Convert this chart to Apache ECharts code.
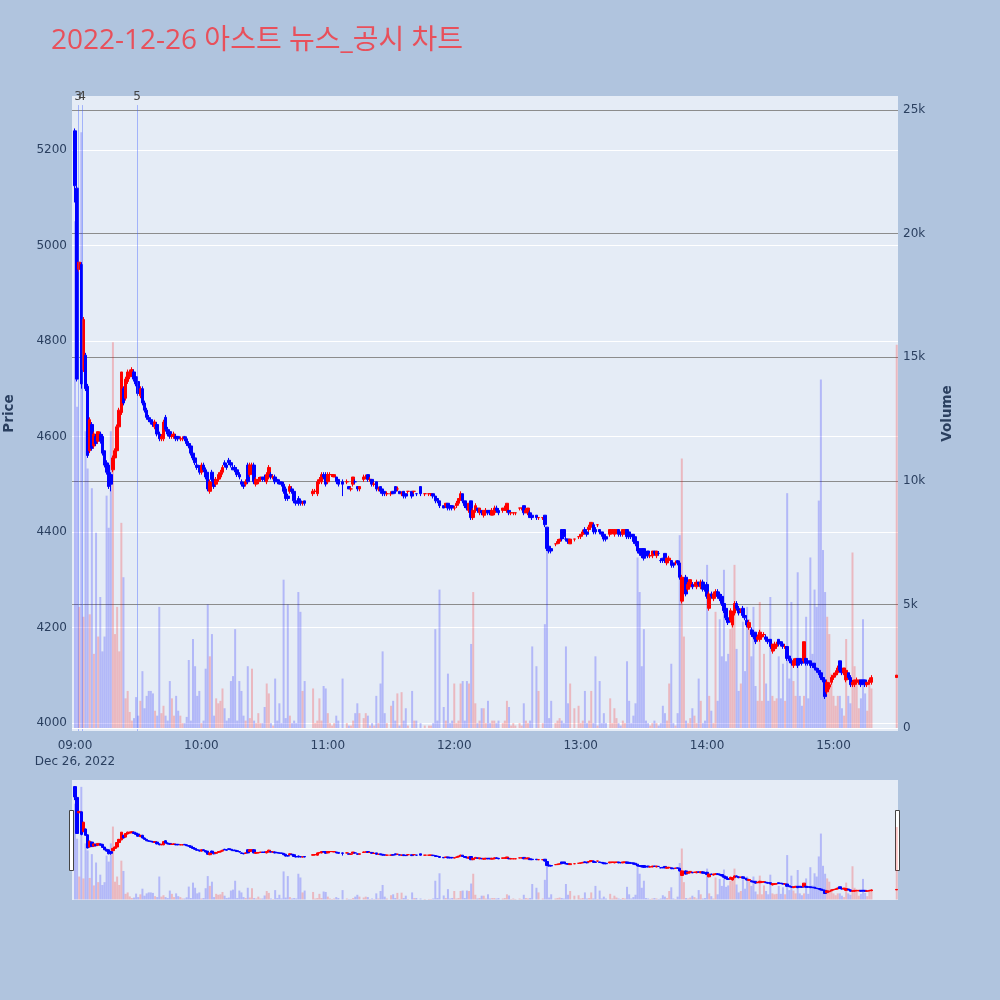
<!DOCTYPE html>
<html><head><meta charset="utf-8">
<script src="https://cdn.jsdelivr.net/npm/echarts@6/dist/echarts.min.js"></script>
<style>html,body{margin:0;padding:0;background:#b0c4de;}#c{width:1000px;height:1000px;}</style>
</head><body><div id="c"></div>
<script>
const chartTitle = '2022-12-26 아스트 뉴스_공시 차트';
const hourTicks = ['09:00','10:00','11:00','12:00','13:00','14:00','15:00'];
const newsTimes = ['09:01:25','09:03:20','09:29:25'];
const newsLabels = ['3','4','5'];

// candles per minute [open, close, low, high]; null = no trade
const h09 = [
[5240,5125,5090,5245],[5120,4720,4715,5125],[4950,4965,4945,4965],[4960,4710,4700,4965],[4740,4845,4735,4850],
[4770,4700,4695,4775],[4705,4560,4555,4710],[4570,4635,4565,4640],[4625,4575,4570,4630],[4580,4605,4575,4610],
[4600,4585,4580,4605],[4590,4610,4585,4610],[4605,4590,4585,4610],[4600,4565,4560,4605],[4570,4540,4535,4570],
[4545,4525,4520,4550],[4540,4495,4490,4545],[4520,4500,4485,4525],[4530,4555,4525,4560],[4555,4570,4550,4575],
[4570,4620,4565,4625],[4620,4655,4615,4660],[4650,4735,4645,4735],[4700,4670,4665,4705],[4680,4720,4675,4725],
[4715,4735,4710,4740],[4725,4735,4720,4740],[4730,4740,4725,4745],[4735,4720,4715,4740],[4725,4710,4705,4730],
[4715,4690,4685,4720],[4685,4700,4680,4705],[4700,4670,4665,4705],[4670,4655,4650,4675],[4655,4640,4635,4660],
[4640,4635,4630,4645],[4635,4630,4625,4640],[4630,4625,4620,4635],[4620,4630,4615,4635],[4625,4605,4600,4630],
[4605,4595,4590,4610],[4595,4600,4590,4605],[4595,4630,4590,4635],[4640,4615,4610,4645],[4615,4605,4600,4620],
[4610,4600,4595,4615],[4600,4600,4595,4605],[4600,4605,4595,4610],[4600,4595,4590,4605],[4600,4595,4590,4600],
[4595,4595,4590,4600],[4595,4595,4590,4600],[4600,4595,4590,4600],[4595,4585,4580,4600],[4585,4580,4575,4590],
[4580,4565,4560,4585],[4565,4555,4550,4570],[4555,4545,4540,4560],[4540,4535,4530,4545],[4535,4525,4520,4540]];
const h10 = [
[4525,4540,4520,4545],[4540,4530,4525,4545],[4530,4515,4510,4535],[4525,4490,4485,4525],[4485,4505,4480,4510],
[4525,4510,4505,4530],[4510,4495,4490,4515],[4500,4510,4495,4515],[4510,4520,4505,4525],[4515,4525,4510,4530],
[4525,4535,4520,4540],[4545,4540,4535,4550],[4540,4535,4530,4545],[4550,4545,4540,4555],[4545,4540,4535,4550],
[4535,4530,4530,4540],[4535,4530,4525,4540],[4530,4520,4515,4535],[4520,4515,4510,4525],[4505,4500,4495,4510],
[4500,4495,4490,4505],[4500,4505,4495,4510],[4540,4505,4500,4545],[4520,4540,4515,4545],[4530,4540,4525,4545],
[4540,4505,4500,4545],[4500,4510,4495,4515],[4505,4510,4500,4515],[4510,4515,4505,4515],[4515,4510,4505,4515],
[4515,4510,4505,4520],[4505,4520,4500,4525],[4515,4535,4510,4540],[4520,4515,4510,4525],[4515,4515,4510,4520],
[4515,4505,4500,4520],[4510,4505,4500,4510],[4505,4500,4500,4510],[4505,4500,4495,4505],[4500,4485,4480,4505],
[4490,4470,4465,4495],[4475,4470,4465,4480],[4485,4495,4480,4500],[4490,4485,4480,4495],[4485,4465,4460,4490],
[4465,4460,4455,4470],[4470,4460,4455,4475],[4465,4460,4455,4470],[4460,4460,4455,4465],[4465,4460,4455,4465],
null,null,null,[4480,4485,4475,4490],[4485,4485,4480,4490],
[4480,4505,4475,4510],[4505,4510,4500,4515],[4505,4520,4500,4525],[4520,4515,4510,4525],[4520,4500,4495,4525]];
const h11 = [
[4505,4520,4500,4525],[4520,4520,4515,4525],[4520,4520,4515,4520],[4515,4520,4515,4520],[4515,4505,4500,4515],
[4510,4500,4495,4510],null,[4505,4500,4475,4510],null,[4505,4505,4500,4510],
[4495,4490,4490,4495],[4490,4490,4485,4495],[4500,4515,4495,4515],[4505,4505,4500,4510],[4495,4490,4485,4495],
[4490,4495,4485,4495],null,[4510,4515,4505,4520],[4515,4515,4510,4520],[4520,4510,4505,4520],
[4510,4510,4505,4515],[4510,4500,4495,4510],[4500,4500,4495,4505],[4505,4490,4485,4505],[4490,4490,4485,4495],
[4495,4485,4480,4495],[4490,4480,4475,4490],[4485,4480,4475,4485],[4480,4480,4475,4485],null,
[4480,4480,4475,4485],[4485,4480,4480,4485],[4495,4485,4480,4495],[4490,4490,4485,4495],[4485,4480,4480,4485],
[4480,4480,4475,4485],[4485,4475,4470,4485],[4480,4475,4470,4480],[4485,4485,4480,4485],null,
[4485,4475,4470,4485],[4485,4485,4480,4485],[4480,4480,4475,4480],null,[4495,4480,4475,4495],
null,[4480,4480,4475,4480],null,[4480,4480,4475,4480],[4480,4480,4475,4480],
[4480,4475,4470,4480],[4475,4465,4460,4475],[4470,4465,4460,4470],[4465,4455,4450,4465],null,
[4455,4450,4450,4455],[4455,4460,4450,4460],[4460,4450,4445,4460],[4455,4450,4445,4455],[4455,4450,4445,4455]];
const h12 = [
[4450,4450,4445,4455],[4455,4460,4450,4465],[4460,4470,4455,4470],[4470,4480,4465,4485],[4480,4465,4460,4480],
[4465,4455,4450,4465],[4455,4450,4445,4460],[4445,4460,4440,4460],[4465,4430,4425,4465],[4430,4445,4425,4450],
[4445,4455,4440,4460],[4450,4445,4440,4450],[4440,4450,4435,4450],[4445,4440,4435,4445],[4435,4445,4430,4445],
[4440,4445,4435,4450],[4445,4440,4435,4445],[4445,4440,4435,4445],[4435,4445,4435,4450],[4440,4450,4435,4455],
[4450,4445,4440,4455],[4445,4440,4435,4450],null,[4445,4450,4440,4450],[4445,4450,4445,4455],
[4445,4460,4440,4460],[4445,4440,4435,4445],[4440,4440,4435,4440],[4440,4440,4435,4440],[4440,4440,4435,4440],
null,[4450,4450,4445,4450],[4450,4450,4445,4450],[4455,4440,4435,4455],[4440,4445,4440,4450],
[4440,4450,4435,4450],[4440,4430,4430,4445],[4435,4430,4425,4435],null,[4435,4430,4425,4435],
[4430,4430,4425,4430],null,[4430,4430,4425,4430],[4435,4415,4410,4435],[4410,4365,4360,4410],
[4370,4360,4355,4370],[4365,4360,4355,4365],null,[4375,4375,4370,4375],[4375,4380,4375,4385],
[4380,4385,4375,4385],[4405,4385,4380,4405],[4405,4390,4385,4405],[4385,4385,4380,4390],[4385,4380,4375,4385],
[4375,4385,4375,4385],null,[4385,4385,4380,4385],null,[4390,4390,4385,4390]];
const h13 = [
[4390,4395,4385,4395],[4395,4400,4390,4405],[4405,4400,4395,4410],[4400,4395,4390,4405],[4405,4410,4400,4415],
[4410,4420,4405,4420],[4415,4400,4395,4420],[4405,4400,4395,4410],[4415,4415,4410,4415],[4405,4400,4395,4405],
[4400,4395,4390,4400],[4395,4385,4380,4395],[4390,4385,4380,4390],null,[4395,4405,4390,4405],
[4400,4405,4395,4405],[4395,4405,4390,4405],[4400,4405,4395,4405],[4405,4395,4390,4405],[4400,4395,4390,4400],
[4395,4405,4390,4405],[4400,4405,4395,4405],[4405,4390,4385,4405],[4400,4390,4385,4400],[4395,4390,4385,4395],
[4395,4380,4375,4395],[4390,4375,4370,4390],[4380,4360,4355,4380],[4365,4355,4350,4365],[4365,4350,4345,4365],
[4365,4345,4340,4365],[4355,4350,4345,4360],[4360,4350,4345,4360],[4350,4350,4345,4355],[4350,4360,4345,4360],
[4360,4355,4350,4360],[4350,4360,4345,4360],[4355,4355,4350,4360],[4340,4340,4335,4345],[4345,4340,4335,4345],
[4355,4340,4335,4355],[4335,4345,4330,4345],[4340,4345,4335,4350],[4340,4330,4325,4340],[4335,4330,4325,4335],
[4335,4335,4330,4340],[4340,4335,4330,4340],[4335,4305,4300,4340],[4255,4305,4250,4310],[4290,4300,4285,4305],
[4305,4270,4265,4310],[4280,4290,4275,4295],[4285,4300,4280,4300],[4290,4285,4280,4295],[4290,4290,4285,4295],
[4285,4295,4280,4300],[4295,4290,4285,4295],[4285,4295,4280,4300],[4295,4280,4275,4300],[4285,4280,4275,4290]];
const h14 = [
[4290,4265,4260,4295],[4240,4270,4235,4275],[4270,4265,4260,4275],[4260,4270,4255,4275],[4265,4275,4260,4280],
[4275,4265,4260,4280],[4270,4260,4255,4275],[4265,4250,4245,4270],[4250,4235,4230,4255],[4240,4220,4215,4245],
[4220,4210,4205,4225],[4215,4235,4210,4240],[4205,4230,4200,4235],[4230,4250,4225,4255],[4250,4240,4235,4255],
[4240,4230,4225,4245],[4235,4235,4230,4240],[4240,4225,4220,4245],[4225,4220,4215,4230],[4215,4205,4200,4220],
[4200,4210,4195,4215],[4195,4185,4180,4200],[4190,4180,4175,4195],[4190,4170,4165,4190],[4175,4180,4170,4185],
[4175,4190,4170,4195],[4180,4185,4175,4190],[4185,4185,4180,4190],[4180,4175,4170,4185],[4175,4170,4165,4180],
[4175,4160,4155,4175],[4150,4165,4145,4165],[4155,4165,4150,4170],[4160,4165,4155,4170],[4175,4165,4160,4175],
[4170,4165,4160,4170],[4165,4160,4155,4165],[4160,4160,4155,4165],[4160,4135,4130,4160],[4140,4130,4125,4140],
[4130,4125,4120,4135],[4120,4130,4115,4135],[4125,4135,4120,4135],[4135,4120,4115,4135],[4135,4125,4120,4135],
[4130,4125,4120,4130],[4130,4170,4125,4170],[4135,4125,4120,4135],[4130,4125,4120,4130],[4130,4120,4115,4130],
[4125,4120,4115,4125],[4125,4115,4110,4125],[4115,4110,4105,4115],[4110,4105,4100,4115],[4105,4095,4090,4105],
[4095,4090,4085,4095],[4090,4055,4050,4090],[4065,4085,4060,4090],[4075,4080,4070,4085],[4085,4095,4080,4100]];
const h15 = [
[4095,4100,4090,4105],[4100,4105,4095,4110],[4105,4115,4100,4120],[4130,4110,4105,4130],[4110,4105,4100,4115],
[4105,4115,4100,4115],[4090,4110,4085,4110],[4105,4095,4090,4105],[4095,4080,4075,4100],[4080,4085,4075,4090],
[4080,4090,4075,4090],[4085,4090,4080,4095],[4085,4090,4080,4090],[4090,4080,4075,4090],[4090,4085,4080,4090],
[4090,4080,4075,4090],[4080,4085,4075,4085],[4085,4090,4080,4095],[4085,4095,4080,4100],
null,null,null,null,null,null,null,null,null,null,null,
[4095,4100,4095,4100]];

// volume per minute (shares)
const v09 = [20500,13000,4900,24100,4500, 12000,10500,4600,9700,3000, 7900,3700,5300,3100,3700,
  9400,8100,12000,15600,3800, 4900,3100,8300,6100,1200, 1500,650,300,400,1250,
  500,1100,2300,800,1300, 1500,1500,1400,700,500, 4900,600,900,500,300,
  1900,1200,500,1300,700, 500,200,200,450,2750, 300,3600,2500,1300,1500];
const v10 = [200,300,2400,5000,2900, 3800,500,1200,1000,1100, 1600,800,300,400,1900,
  2100,4000,300,1900,1500, 500,300,2500,400,2400, 300,200,600,200,200,
  850,1800,1400,200,100, 2000,300,1000,200,6000, 400,5000,500,200,300,
  200,5500,4700,1500,1900, null,null,null,1600,200, 300,1200,300,1700,1600];
const v11 = [600,200,100,200,500, 300,null,2000,null,200, 100,100,300,600,1000,
  600,null,400,600,500, 100,200,100,1300,200, 1800,3100,600,200,null,
  900,1100,300,1400,100, 1450,300,800,100,null, 1500,300,300,null,200,
  null,100,null,100,100, 200,4000,300,5600,null, 850,300,2200,200,300];
const v12 = [1800,200,300,1800,1900, 300,1900,1800,3400,5500, 1000,200,300,800,800,
  200,1100,200,300,300, 200,300,null,200,300, 1100,850,100,200,100,
  null,200,100,1000,300, 200,300,3300,null,2500, 1500,null,200,4200,7200,
  400,1100,null,200,300, 400,300,200,3300,1000, 1800,null,800,null,900];
const v13 = [200,300,1500,200,300, 1500,200,2900,100,1900, 200,600,200,null,1200,
  200,800,400,200,100, 300,200,2700,1100,200, 500,1000,6900,5500,2500,
  4000,300,200,100,200, 300,200,100,200,900, 600,300,1800,2600,200,
  100,600,7800,10900,3700, 300,200,400,800,500, 200,2000,1100,200,300];
const v14 = [6600,1300,700,200,4700, 1100,4400,2900,6400,2700, 3000,4000,4600,6600,3200,
  1500,1800,4300,2300,4900, 4400,2900,4900,1700,1100, 5100,1100,3000,1800,1100,
  5300,1300,1100,1200,2900, 1200,2600,1100,9500,2000, 5100,1900,1300,6300,1300,
  900,1300,4500,1200,6900, 3000,5600,4900,9200,14100, 7200,5500,4500,3800,2200];
const v15 = [1300,900,1300,1300,800, 500,3600,1300,1000,7100, 2500,1900,800,1200,4400,
  1400,700,1900,1600, null,null,null,null,null,null,null,null,null,null,null, 15500];

const TITLE_FONT = '"Open Sans", "Noto Sans CJK KR", sans-serif';
const FONT = '"DejaVu Sans", Verdana, sans-serif';
const TXT = '#2a3f5f';
const UP = '#ff0000', DOWN = '#0000ff';
const UPV = 'rgba(255,0,0,0.22)', DOWNV = 'rgba(0,0,255,0.22)';

// x axis in minutes after 09:00
function toMin(hms) {
  const p = hms.split(':').map(Number);
  return (p[0] - 9) * 60 + p[1] + (p[2] || 0) / 60;
}
function fmtMin(m) {
  const h = 9 + Math.floor(m / 60), mm = Math.round(m % 60);
  return String(h).padStart(2, '0') + ':' + String(mm).padStart(2, '0');
}
const XMIN = -1.42, XMAX = 390.6;

const hourBlocks = [h09, h10, h11, h12, h13, h14, h15];
const volBlocks = [v09, v10, v11, v12, v13, v14, v15];
const candleData = [], volData = [];
let prevClose = null;
hourBlocks.forEach((blk, hi) => {
  blk.forEach((row, i) => {
    if (!row) return;
    const t = hi * 60 + i;
    const [o, c, l, h] = row;
    const up = c > o ? true : c < o ? false : (prevClose === null ? true : prevClose <= c);
    prevClose = c;
    candleData.push([t, o, c, l, h]);
    const v = volBlocks[hi][i];
    if (v != null) volData.push([t, v, up ? 1 : 0]);
  });
});

const newsLines = newsTimes.map((s, i) => [
  { coord: [toMin(s), 3983] },
  { coord: [toMin(s), 5294], label: { formatter: newsLabels[i] } }
]);

function volRender(params, api) {
  const t = api.value(0), v = api.value(1), up = api.value(2);
  const top = api.coord([t, v]);
  const base = api.coord([t, 0]);
  return {
    type: 'rect',
    shape: { x: top[0] - 1, y: top[1], width: 2, height: base[1] - top[1] },
    style: { fill: up ? UPV : DOWNV }
  };
}

const chart = echarts.init(document.getElementById('c'), null, { renderer: 'canvas' });
chart.setOption({
  backgroundColor: '#b0c4de',
  animation: false,
  textStyle: { fontFamily: FONT },
  title: {
    text: chartTitle, left: 46, top: 22,
    textStyle: { fontFamily: TITLE_FONT, fontSize: 28, fontWeight: 'normal', color: '#e8505b' }
  },
  grid: [
    { left: 72, top: 96, width: 826, height: 635, show: true, backgroundColor: '#e5ecf6', borderWidth: 0,
      containLabel: false, outerBoundsMode: 'none' },
    { left: 72, top: 780, width: 826, height: 120, show: true, backgroundColor: '#e5ecf6', borderWidth: 0,
      containLabel: false, outerBoundsMode: 'none' }
  ],
  xAxis: [
    {
      type: 'value', gridIndex: 0, min: XMIN, max: XMAX,
      axisLine: { show: false }, axisTick: { show: false }, splitLine: { show: false },
      axisLabel: {
        customValues: hourTicks.map(toMin), color: TXT, fontSize: 12, margin: 7, lineHeight: 16,
        fontFamily: FONT,
        formatter: (v) => {
          const s = fmtMin(v);
          return s === '09:00' ? s + '\nDec 26, 2022' : s;
        }
      }
    },
    { type: 'value', gridIndex: 1, min: XMIN, max: XMAX, show: false, splitLine: { show: false } }
  ],
  yAxis: [
    {
      type: 'value', gridIndex: 0, position: 'left', min: 3983, max: 5313,
      minInterval: 200, maxInterval: 200,
      axisLine: { show: false }, axisTick: { show: false },
      splitLine: { show: true, showMinLine: false, showMaxLine: false, lineStyle: { color: '#ffffff', width: 1 } },
      axisLabel: { color: TXT, fontSize: 12, margin: 5, showMinLabel: false, showMaxLabel: false, fontFamily: FONT,
        formatter: (v) => String(v) },
      name: 'Price', nameLocation: 'middle', nameGap: 56, nameRotate: 90,
      nameTextStyle: { color: TXT, fontSize: 13.5, fontWeight: 'bold', fontFamily: FONT }
    },
    {
      type: 'value', gridIndex: 0, position: 'right', min: -121, max: 25566,
      minInterval: 5000, maxInterval: 5000,
      axisLine: { show: false }, axisTick: { show: false },
      splitLine: { show: true, showMinLine: false, showMaxLine: false, lineStyle: { color: '#8c8c8c', width: 1 } },
      axisLabel: {
        color: TXT, fontSize: 12, margin: 5, showMinLabel: false, showMaxLabel: false, fontFamily: FONT,
        formatter: (v) => v === 0 ? '0' : (v / 1000) + 'k'
      },
      name: 'Volume', nameLocation: 'middle', nameGap: 42, nameRotate: 90,
      nameTextStyle: { color: TXT, fontSize: 13.5, fontWeight: 'bold', fontFamily: FONT }
    },
    { type: 'value', gridIndex: 1, min: 3983, max: 5313, show: false, splitLine: { show: false } },
    { type: 'value', gridIndex: 1, min: -121, max: 25566, show: false, splitLine: { show: false } }
  ],
  series: [
    {
      type: 'candlestick', xAxisIndex: 0, yAxisIndex: 0, data: candleData,
      encode: { x: 0, y: [1, 2, 3, 4] }, barWidth: 3,
      itemStyle: { color: UP, color0: DOWN, borderColor: UP, borderColor0: DOWN, borderWidth: 1 },
      markLine: {
        silent: true, symbol: ['none', 'none'], animation: false,
        lineStyle: { color: 'rgba(70,100,255,0.42)', width: 1, type: 'solid' },
        label: { show: true, position: 'end', distance: 2, color: '#444', fontSize: 12, fontFamily: FONT },
        data: newsLines
      }
    },
    {
      type: 'custom', xAxisIndex: 0, yAxisIndex: 1, data: volData, renderItem: volRender,
      encode: { x: 0, y: 1 }, clip: true,
      markLine: {
        silent: true, symbol: ['none', 'none'], animation: false,
        lineStyle: { color: '#ffffff', width: 1, type: 'solid' }, label: { show: false },
        data: [{ yAxis: 0 }]
      }
    },
    {
      type: 'candlestick', xAxisIndex: 1, yAxisIndex: 2, data: candleData,
      encode: { x: 0, y: [1, 2, 3, 4] }, barWidth: 3,
      itemStyle: { color: UP, color0: DOWN, borderColor: UP, borderColor0: DOWN, borderWidth: 1 }
    },
    { type: 'custom', xAxisIndex: 1, yAxisIndex: 3, data: volData, renderItem: volRender,
      encode: { x: 0, y: 1 }, clip: true }
  ],
  graphic: [
    { type: 'rect', shape: { x: 69.5, y: 810.5, width: 4, height: 60 }, style: { fill: '#ffffff', stroke: '#444', lineWidth: 1 } },
    { type: 'rect', shape: { x: 895.5, y: 810.5, width: 4, height: 60 }, style: { fill: '#ffffff', stroke: '#444', lineWidth: 1 } }
  ]
});
</script></body></html>
